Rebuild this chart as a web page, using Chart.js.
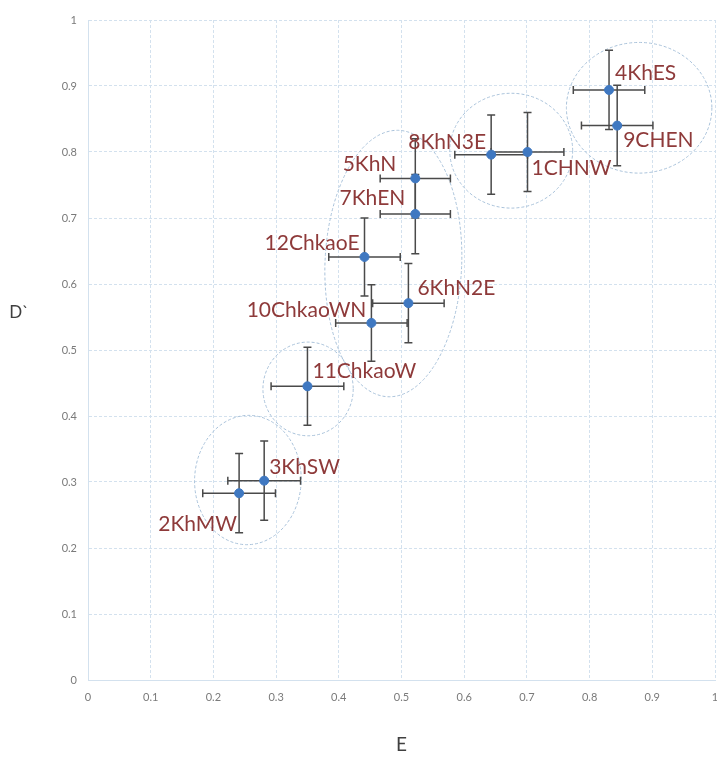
<!DOCTYPE html>
<html lang="en">
<head>
    <meta charset="UTF-8">
    <title>E vs D` scatter</title>
    <script src="https://cdn.jsdelivr.net/npm/chart.js"></script>
    <style>
        html, body { margin: 0; padding: 0; background: #ffffff; overflow: hidden; }
        #wrap { width: 730px; height: 757px; position: relative; }
    </style>
</head>
<body>
    <div id="wrap">
        <canvas id="scatterChart"></canvas>
    </div>

    <script>
        // Data
        const siteNames = ['1CHNW', '2KhMW', '3KhSW', '4KhES', '5KhN', '6KhN2E',
                           '7KhEN', '8KhN3E', '9CHEN', '10ChkaoWN', '11ChkaoW', '12ChkaoE'];
        const eValues = [0.701, 0.241, 0.281, 0.831, 0.522, 0.511, 0.522, 0.643, 0.844, 0.452, 0.350, 0.441];
        const dValues = [0.800, 0.283, 0.302, 0.894, 0.760, 0.571, 0.706, 0.796, 0.840, 0.541, 0.445, 0.641];
        const eErrors = [0.058, 0.058, 0.058, 0.057, 0.056, 0.057, 0.056, 0.058, 0.057, 0.057, 0.058, 0.057];
        const dErrors = [0.060, 0.060, 0.060, 0.060, 0.060, 0.060, 0.060, 0.060, 0.061, 0.058, 0.059, 0.059];
        const tickValues = [0, 0.1, 0.2, 0.3, 0.4, 0.5, 0.6, 0.7, 0.8, 0.9, 1];
        const tickLabels = ['0', '0.1', '0.2', '0.3', '0.4', '0.5', '0.6', '0.7', '0.8', '0.9', '1'];

        // Group outlines (centre and half-widths in data units)
        const groupCentreE = [0.255, 0.351, 0.487, 0.675, 0.879];
        const groupCentreD = [0.303, 0.441, 0.631, 0.802, 0.867];
        const groupRadiusE = [0.085, 0.072, 0.109, 0.098, 0.116];
        const groupRadiusD = [0.098, 0.071, 0.202, 0.087, 0.099];
        const groupTilt = [0.04, 0, 0.04, 0, 0];

        // label placement relative to its point: [align, dx, dy(baseline)]
        const labelPlacement = [
            ['left', 4, 23], ['right', -2, 38], ['left', 5, -7], ['left', 6, -10],
            ['right', -19, -7], ['left', 9, -8], ['right', -10, -9], ['right', -5, -6],
            ['left', 6, 21], ['right', -5, -6], ['left', 5, -8], ['right', -5, -7]
        ];

        const points = eValues.map((e, i) => ({ x: e, y: dValues[i] }));

        const groupsAndBars = {
            id: 'groupsAndBars',
            beforeDatasetsDraw(chart) {
                const { ctx, scales: { x, y } } = chart;
                ctx.save();
                // dashed group outlines
                ctx.strokeStyle = '#a9c2da';
                ctx.lineWidth = 1;
                ctx.setLineDash([3, 2]);
                groupCentreE.forEach((e, i) => {
                    const cx = x.getPixelForValue(e);
                    const cy = y.getPixelForValue(groupCentreD[i]);
                    const rx = Math.abs(x.getPixelForValue(e + groupRadiusE[i]) - cx);
                    const ry = Math.abs(y.getPixelForValue(groupCentreD[i] + groupRadiusD[i]) - cy);
                    ctx.beginPath();
                    ctx.ellipse(cx, cy, rx, ry, groupTilt[i], 0, Math.PI * 2);
                    ctx.stroke();
                });
                // error bars
                ctx.setLineDash([]);
                ctx.strokeStyle = '#4a4a4a';
                ctx.lineWidth = 1.5;
                const cap = 4;
                eValues.forEach((e, i) => {
                    const px = x.getPixelForValue(e);
                    const py = y.getPixelForValue(dValues[i]);
                    const x0 = x.getPixelForValue(e - eErrors[i]);
                    const x1 = x.getPixelForValue(e + eErrors[i]);
                    const y0 = y.getPixelForValue(dValues[i] - dErrors[i]);
                    const y1 = y.getPixelForValue(dValues[i] + dErrors[i]);
                    ctx.beginPath();
                    ctx.moveTo(x0, py); ctx.lineTo(x1, py);
                    ctx.moveTo(x0, py - cap); ctx.lineTo(x0, py + cap);
                    ctx.moveTo(x1, py - cap); ctx.lineTo(x1, py + cap);
                    ctx.moveTo(px, y0); ctx.lineTo(px, y1);
                    ctx.moveTo(px - cap, y0); ctx.lineTo(px + cap, y0);
                    ctx.moveTo(px - cap, y1); ctx.lineTo(px + cap, y1);
                    ctx.stroke();
                });
                ctx.restore();
            },
            afterDatasetsDraw(chart) {
                const { ctx, scales: { x, y } } = chart;
                ctx.save();
                ctx.font = '21px Lato, "Open Sans", sans-serif';
                ctx.fillStyle = '#8e3a3a';
                ctx.textBaseline = 'alphabetic';
                siteNames.forEach((name, i) => {
                    const [align, dx, dy] = labelPlacement[i];
                    ctx.textAlign = align;
                    ctx.fillText(name, x.getPixelForValue(eValues[i]) + dx, y.getPixelForValue(dValues[i]) + dy);
                });
                // horizontal y-axis title
                ctx.font = '17px Lato, "Open Sans", sans-serif';
                ctx.fillStyle = '#404040';
                ctx.textAlign = 'center';
                ctx.textBaseline = 'middle';
                ctx.fillText('D`', 19, 313);
                ctx.restore();
            }
        };

        const gridStyle = {
            color: '#d3e1ee',
            lineWidth: 1,
            drawTicks: false
        };

        const chart = new Chart(document.getElementById('scatterChart').getContext('2d'), {
            type: 'scatter',
            data: {
                datasets: [{
                    label: 'sites',
                    data: points,
                    backgroundColor: '#3f78c1',
                    borderColor: '#3f78c1',
                    pointRadius: 4.5,
                    pointHoverRadius: 4.5
                }]
            },
            options: {
                responsive: true,
                maintainAspectRatio: false,
                animation: false,
                layout: { padding: { top: 20, right: 15, left: 0, bottom: 0 } },
                plugins: {
                    legend: { display: false },
                    tooltip: { enabled: false }
                },
                scales: {
                    x: {
                        type: 'linear',
                        min: 0,
                        max: 1,
                        afterBuildTicks: scale => { scale.ticks = tickValues.map(v => ({ value: v })); },
                        afterFit: scale => { scale.height = 77; },
                        grid: gridStyle,
                        border: { color: '#d3e1ee', dash: [3, 2] },
                        ticks: {
                            padding: 11,
                            color: '#7a7a7a',
                            font: { family: 'Lato, "Open Sans", sans-serif', size: 11 },
                            maxRotation: 0,
                            callback: (v, i) => tickLabels[i]
                        },
                        title: {
                            display: true,
                            text: 'E',
                            color: '#404040',
                            font: { family: 'Lato, "Open Sans", sans-serif', size: 19 },
                            padding: { top: 4, bottom: 1 }
                        }
                    },
                    y: {
                        type: 'linear',
                        min: 0,
                        max: 1,
                        afterBuildTicks: scale => { scale.ticks = tickValues.map(v => ({ value: v })); },
                        afterFit: scale => { scale.width = 88; },
                        grid: gridStyle,
                        border: { color: '#d3e1ee', dash: [3, 2] },
                        ticks: {
                            padding: 11,
                            color: '#7a7a7a',
                            font: { family: 'Lato, "Open Sans", sans-serif', size: 11 },
                            callback: (v, i) => tickLabels[i]
                        }
                    }
                }
            },
            plugins: [groupsAndBars]
        });
    </script>
</body>
</html>
